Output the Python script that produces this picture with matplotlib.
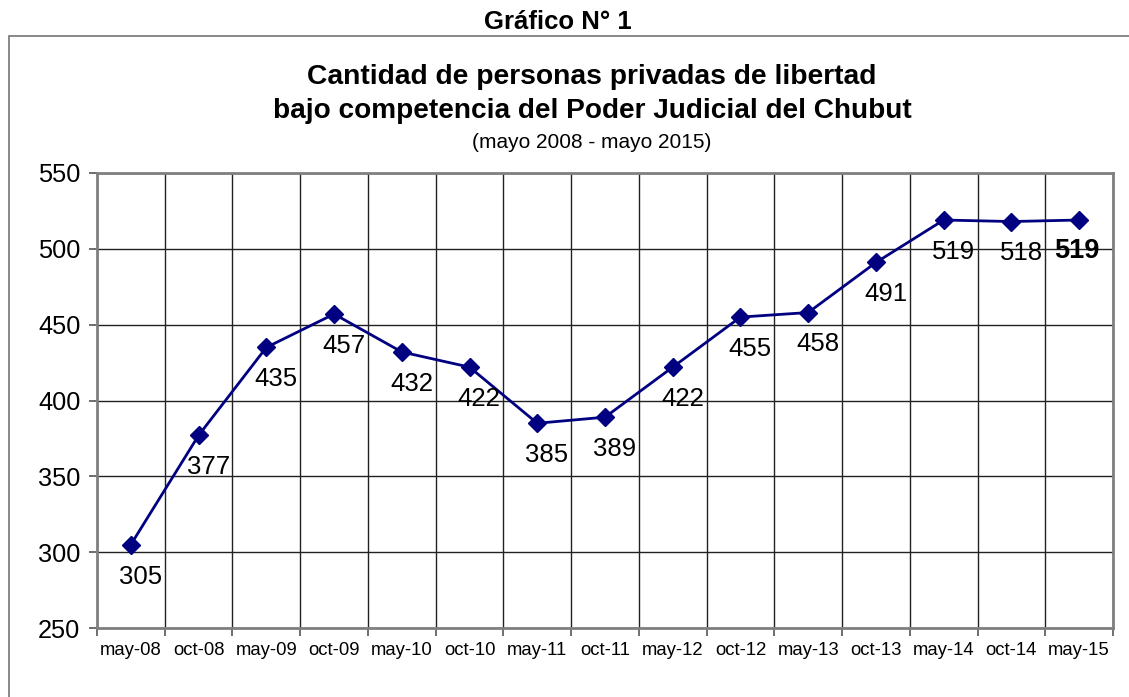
import matplotlib
matplotlib.use("Agg")
import matplotlib.pyplot as plt
from matplotlib.patches import Rectangle

plt.rcParams['font.family'] = ['Liberation Sans', 'DejaVu Sans']

# datos
periodos = ["may-08", "oct-08", "may-09", "oct-09", "may-10", "oct-10", "may-11", "oct-11",
            "may-12", "oct-12", "may-13", "oct-13", "may-14", "oct-14", "may-15"]
personas = [305, 377, 435, 457, 432, 422, 385, 389, 422, 455, 458, 491, 519, 518, 519]
y_ticks = [250, 300, 350, 400, 450, 500, 550]

fig = plt.figure(figsize=(11.29, 6.97), dpi=100)
W, H = 1129, 697

# marco del grafico (se sale por la derecha y abajo)
fig.patches.append(Rectangle((9 / W, -0.01), 1.02 - 9 / W, 1 - 36 / H + 0.01,
                             transform=fig.transFigure, fill=False,
                             edgecolor="#808080", linewidth=1.3))

cx = 592 / W  # centro de los titulos dentro del marco
fig.text(558 / W, 1 - 22 / H, "Gráfico N° 1", ha="center", va="center",
         fontsize=18.5, fontweight="bold")
fig.text(cx, 1 - 77 / H, "Cantidad de personas privadas de libertad",
         ha="center", va="center", fontsize=20.3, fontweight="bold")
fig.text(cx, 1 - 111 / H, "bajo competencia del Poder Judicial del Chubut",
         ha="center", va="center", fontsize=20.2, fontweight="bold")
fig.text(cx, 1 - 142 / H, "(mayo 2008 - mayo 2015)", ha="center", va="center",
         fontsize=15)

ax = fig.add_axes([97 / W, 1 - 628 / H, (1113 - 97) / W, (628 - 173) / H])

x = list(range(len(periodos)))
ax.plot(x, personas, color="#000080", linewidth=2, marker="D", markersize=9,
        zorder=3, clip_on=False)

for i, v in enumerate(personas):
    if i == len(personas) - 1:
        ax.annotate(str(v), (i, v), xytext=(-2, -22), textcoords="offset points",
                    ha="center", va="center", fontsize=19.5, fontweight="bold")
    else:
        ax.annotate(str(v), (i, v), xytext=(7, -23), textcoords="offset points",
                    ha="center", va="center", fontsize=18.5)

ax.set_xlim(-0.5, len(periodos) - 0.5)
ax.set_ylim(250, 550)
ax.set_yticks(y_ticks)
ax.tick_params(axis="y", labelsize=18.3, length=6, width=1.2, color="#555555", pad=6)

# ticks entre categorias, etiquetas en el centro
ax.set_xticks([i - 0.5 for i in range(len(periodos) + 1)])
ax.set_xticklabels([])
ax.set_xticks(x, minor=True)
ax.set_xticklabels(periodos, minor=True)
ax.tick_params(axis="x", which="major", length=6, width=1.2, color="#555555")
ax.tick_params(axis="x", which="minor", length=0, labelsize=13.3, pad=10)

ax.grid(True, which="major", color="#222222", linewidth=1)
ax.set_axisbelow(True)
for s in ax.spines.values():
    s.set_color("#808080")
    s.set_linewidth(2)

fig.savefig("out.png", dpi=100)
